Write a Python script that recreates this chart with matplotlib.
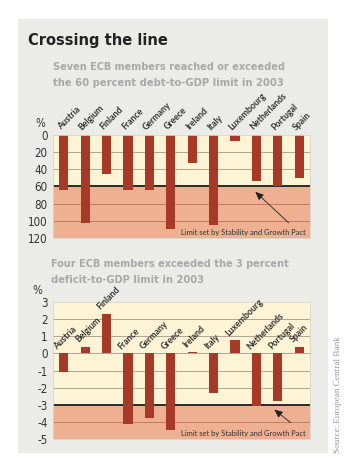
import matplotlib
matplotlib.use("Agg")
import matplotlib.pyplot as plt
from matplotlib import font_manager
from matplotlib.font_manager import FontProperties
from matplotlib.patches import Rectangle

countries = ["Austria", "Belgium", "Finland", "France", "Germany", "Greece",
             "Ireland", "Italy", "Luxembourg", "Netherlands", "Portugal", "Spain"]
debt = [64, 102, 45, 64, 64, 110, 33, 105, 7, 54, 60, 50]
deficit = [-1.1, 0.4, 2.3, -4.1, -3.8, -4.5, 0.1, -2.3, 0.8, -3.1, -2.8, 0.4]
debt_ticks = [0, 20, 40, 60, 80, 100, 120]
deficit_ticks = [3, 2, 1, 0, -1, -2, -3, -4, -5]
debt_limit = 60
deficit_limit = -3

# ---- font selection -------------------------------------------------------
def find_condensed(bold):
    want = 700 if bold else 400
    best = None
    for f in font_manager.fontManager.ttflist:
        nm = f.name
        cond = ("Narrow" in nm or "Condensed" in nm or
                str(f.stretch) in ("condensed", "semi-condensed", "extra-condensed")
                or (isinstance(f.stretch, int) and f.stretch < 500))
        if not cond or f.style != "normal":
            continue
        w = f.weight if isinstance(f.weight, int) else (700 if "bold" in str(f.weight) else 400)
        if abs(w - want) > 100:
            continue
        score = 0 if "Liberation" in nm else (1 if "DejaVu" in nm else 2)
        if best is None or score < best[0]:
            best = (score, f.fname)
    return best[1] if best else None

names = {f.name for f in font_manager.fontManager.ttflist}
cb = find_condensed(True)
cr = find_condensed(False)
fallback = "Roboto" if "Roboto" in names else "DejaVu Sans"
def cond_font(bold, size, weight=None):
    fn = cb if bold else cr
    if fn:
        return FontProperties(fname=fn, size=size)
    w = weight if weight is not None else ("bold" if bold else "normal")
    return FontProperties(family=fallback, weight=w, size=size)

labfont = "Lato" if "Lato" in names else "DejaVu Sans"
serif = "Liberation Serif" if "Liberation Serif" in names else "DejaVu Serif"

BAR = "#a63a26"
CREAM = "#fdf3d5"
SALMON = "#efb091"
PANEL = "#ebebe7"
SUB = "#a8a8a8"

fig = plt.figure(figsize=(3.5, 4.7), dpi=100)
fig.patch.set_facecolor("white")
fig.patches.append(Rectangle((18/350, 1-453/470), 310/350, 434/470,
                             transform=fig.transFigure, facecolor=PANEL,
                             edgecolor="none", zorder=-5))
renderer = fig.canvas.get_renderer()

def fit_text(xpx, ypx, s, bold, size, target_w, color, weight=None):
    t = fig.text(xpx/350, 1-ypx/470, s, fontproperties=cond_font(bold, size, weight),
                 color=color, va="center", ha="left")
    w = t.get_window_extent(renderer=renderer).width
    if w > 0:
        t.set_fontsize(size * target_w / w)
    return t

fit_text(28, 40, "Crossing the line", True, 14, 140, "#222222", weight=900)
fit_text(53, 67, "Seven ECB members reached or exceeded", True, 10.5, 235, SUB)
fit_text(53, 83, "the 60 percent debt-to-GDP limit in 2003", True, 10.5, 233, SUB)
fit_text(51, 264, "Four ECB members exceeded the 3 percent", True, 10.5, 241, SUB)
fit_text(51, 280, "deficit-to-GDP limit in 2003", True, 10.5, 153, SUB)
fig.text(338/350, 1-395/470, "Source: European Central Bank", family=serif,
         fontsize=6.6, color="#9a9a9a", rotation=90, va="center", ha="center")

x = list(range(len(countries)))

def style(ax, ticks):
    ax.set_xlim(-0.5, len(countries) - 0.5)
    ax.set_xticks([])
    ax.set_yticks(ticks)
    ax.tick_params(axis="y", length=0, pad=4, labelcolor="#333333")
    for s in ax.spines.values():
        s.set_edgecolor("#d8d4c8")
        s.set_linewidth(0.6)
    ax.set_facecolor(CREAM)

def set_ticklabels(ax, ticks):
    ax.set_yticklabels([str(t) for t in ticks])
    for lab in ax.get_yticklabels():
        lab.set_fontproperties(cond_font(False, 8.3))

# Chart 1: debt
ax1 = fig.add_axes([53/350, 1-238/470, 257/350, 103/470])
ax1.set_ylim(120, 0)
ax1.axhspan(debt_limit, 120, color=SALMON, zorder=0, lw=0)
for t in debt_ticks[1:-1]:
    if t == debt_limit:
        continue
    ax1.axhline(t, color="#b0a592" if t < debt_limit else "#c07b60", lw=0.7, zorder=1)
ax1.axhline(debt_limit, color="#2a2a2a", lw=1.4, zorder=1)
ax1.bar(x, debt, width=0.43, color=BAR, zorder=2)
style(ax1, debt_ticks)
set_ticklabels(ax1, debt_ticks)
for i, c in enumerate(countries):
    ax1.annotate(c, (i, 0), xytext=(-1.0, 2.5), textcoords="offset points",
                 rotation=45, rotation_mode="anchor", ha="left", va="bottom",
                 family=labfont, weight="bold", fontsize=6.3, color="#333333",
                 annotation_clip=False)
ax1.annotate("%", (-0.5, 0), xytext=(-9, 8), textcoords="offset points",
             ha="center", va="center", fontproperties=cond_font(False, 8.3),
             color="#333333", annotation_clip=False)
ax1.annotate("", xy=(8.85, 64), xytext=(10.6, 104.5),
             arrowprops=dict(arrowstyle="-|>,head_length=0.5,head_width=0.22",
                             color="#222222", lw=0.6), zorder=4)
ax1.text(11.3, 113.5, "Limit set by Stability and Growth Pact", ha="right",
         va="center", family=labfont, fontsize=5.4, color="#333333", zorder=4)

# Chart 2: deficit
ax2 = fig.add_axes([53/350, 1-439/470, 257/350, 137/470])
ax2.set_ylim(-5, 3)
ax2.axhspan(-5, deficit_limit, color=SALMON, zorder=0, lw=0)
for t in deficit_ticks[1:-1]:
    if t == deficit_limit:
        continue
    ax2.axhline(t, color="#b0a592" if t > deficit_limit else "#c07b60", lw=0.7, zorder=1)
ax2.axhline(deficit_limit, color="#2a2a2a", lw=1.4, zorder=1)
ax2.bar(x, deficit, width=0.43, color=BAR, zorder=2)
style(ax2, deficit_ticks)
set_ticklabels(ax2, deficit_ticks)
for i, (c, v) in enumerate(zip(countries, deficit)):
    ax2.annotate(c, (i, max(v, 0)), xytext=(-3.5, 1.5), textcoords="offset points",
                 rotation=45, rotation_mode="anchor", ha="left", va="bottom",
                 family=labfont, weight="bold", fontsize=6.3, color="#333333",
                 annotation_clip=False)
ax2.annotate("%", (-0.5, 3), xytext=(-11, 8), textcoords="offset points",
             ha="center", va="center", fontproperties=cond_font(False, 8.3),
             color="#333333", annotation_clip=False)
ax2.annotate("", xy=(9.73, -3.18), xytext=(10.7, -4.15),
             arrowprops=dict(arrowstyle="-|>,head_length=0.5,head_width=0.22",
                             color="#222222", lw=0.6), zorder=4)
ax2.text(11.3, -4.68, "Limit set by Stability and Growth Pact", ha="right",
         va="center", family=labfont, fontsize=5.4, color="#333333", zorder=4)

fig.savefig("out.png", dpi=100, facecolor="white")
